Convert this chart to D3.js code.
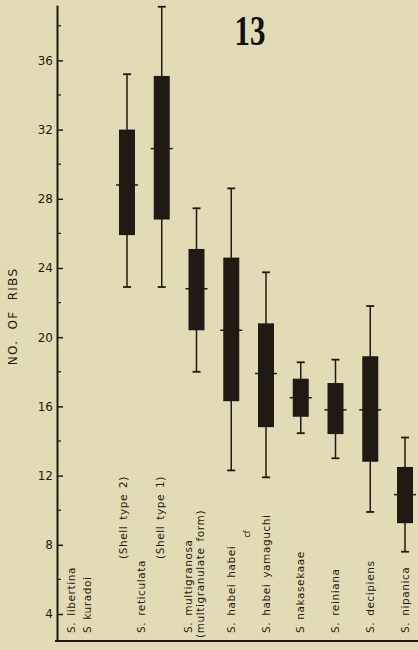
<!DOCTYPE html>
<html>
<head>
<meta charset="utf-8">
<script src="https://cdn.jsdelivr.net/npm/d3@7"></script>
<style>
  body { margin: 0; background: #e1dcb5; }
  svg { display: block; }
</style>
</head>
<body>
<div id="chart"></div>
<script>
// box plot values, one entry per species / form (slot = column position)
const boxSlots = [1, 2, 3, 4, 5, 6, 7, 8, 9];
const whiskerHigh = [35.2, 39.1, 27.45, 28.6, 23.75, 18.55, 18.7, 21.8, 14.2];
const boxHigh = [32.0, 35.1, 25.1, 24.6, 20.8, 17.6, 17.35, 18.9, 12.5];
const medians = [28.8, 30.9, 22.8, 20.4, 17.9, 16.5, 15.8, 15.8, 10.9];
const boxLow = [25.9, 26.8, 20.4, 16.3, 14.8, 15.4, 14.4, 12.8, 9.25];
const whiskerLow = [22.9, 22.9, 18.0, 12.3, 11.9, 14.45, 13.0, 9.9, 7.6];

// category labels along the bottom and the slot they sit at
const labelTexts = ["S. libertina", "S kuradoi", "(Shell type 2)", "S. reticulata", "(Shell type 1)",
    "S. multigranosa", "(multigranulate form)", "S. habei habei", "S. habei yamaguchi",
    "S nakasekaae", "S. reiniana", "S. decipiens", "S. nipanica"];
const labelSlots = [-0.6, -0.15, 0.9, 1.4, 1.95, 2.75, 3.1, 4, 5, 6, 7, 8, 9];

const majorTicks = [4, 8, 12, 16, 20, 24, 28, 32, 36];
const minorTicks = [6, 10, 14, 18, 22, 26, 30, 34, 38];

const width = 418, height = 650;
const ink = "#1f1a14";

// the shell type notes are lettered higher up than the names
const labelStartY = t => t.startsWith("(Shell") ? 559 : t.startsWith("(multi") ? 638 : 633;

const svg = d3.select("#chart").append("svg")
    .attr("width", width)
    .attr("height", height)
    .style("background-color", "#e1dcb5");

const x = d3.scaleLinear().domain([1, 9]).range([127, 405]);
const y = d3.scaleLinear().domain([2.44, 39.2]).range([641, 5]);

// y axis with inward ticks
const axisG = svg.append("g").attr("transform", "translate(57,0)");
axisG.call(d3.axisLeft(y).tickValues(majorTicks).tickSize(-6).tickSizeOuter(0).tickPadding(4))
    .call(g => g.select(".domain").attr("stroke", ink).attr("stroke-width", 2))
    .call(g => g.selectAll(".tick line").attr("stroke", ink).attr("stroke-width", 1.5))
    .call(g => g.selectAll(".tick text")
        .attr("fill", ink)
        .style("font-family", "DejaVu Sans")
        .style("font-size", "12px"));

axisG.selectAll(".minor")
    .data(minorTicks)
    .enter()
    .append("line")
    .attr("x1", 0)
    .attr("x2", 4)
    .attr("y1", d => y(d))
    .attr("y2", d => y(d))
    .attr("stroke", ink)
    .attr("stroke-width", 1.2);

// bottom line
svg.append("line")
    .attr("x1", 55)
    .attr("x2", width)
    .attr("y1", y(2.44))
    .attr("y2", y(2.44))
    .attr("stroke", ink)
    .attr("stroke-width", 1.8);

// y label
svg.append("text")
    .attr("transform", `translate(13,${y(21.2)}) rotate(-90)`)
    .attr("text-anchor", "middle")
    .attr("dy", "0.35em")
    .attr("fill", ink)
    .style("font-family", "DejaVu Sans")
    .style("font-size", "12px")
    .style("letter-spacing", "1.3px")
    .style("word-spacing", "5px")
    .text("NO. OF RIBS");

// boxes
const boxes = boxSlots.map((s, i) => ({
    slot: s,
    hi: whiskerHigh[i],
    q3: boxHigh[i],
    med: medians[i],
    q1: boxLow[i],
    lo: whiskerLow[i],
}));

const box = svg.selectAll("g.box")
    .data(boxes)
    .enter()
    .append("g")
    .attr("class", "box")
    .attr("transform", d => `translate(${x(d.slot)},0)`);

box.append("line")
    .attr("x1", 0).attr("x2", 0)
    .attr("y1", d => y(d.hi))
    .attr("y2", d => y(d.lo))
    .attr("stroke", ink)
    .attr("stroke-width", 1.5);

box.selectAll("line.cap")
    .data(d => [d.hi, d.lo])
    .enter()
    .append("line")
    .attr("class", "cap")
    .attr("x1", -4).attr("x2", 4)
    .attr("y1", v => y(v))
    .attr("y2", v => y(v))
    .attr("stroke", ink)
    .attr("stroke-width", 1.8);

box.append("rect")
    .attr("x", -8)
    .attr("width", 16)
    .attr("y", d => y(d.q3))
    .attr("height", d => y(d.q1) - y(d.q3))
    .attr("fill", ink);

box.append("line")
    .attr("x1", -11).attr("x2", 11)
    .attr("y1", d => y(d.med))
    .attr("y2", d => y(d.med))
    .attr("stroke", ink)
    .attr("stroke-width", 1.5);

// category labels, reading upward
svg.selectAll("text.cat")
    .data(labelTexts.map((t, i) => ({ text: t, slot: labelSlots[i] })))
    .enter()
    .append("text")
    .attr("class", "cat")
    .attr("transform", d => `translate(${x(d.slot)},${labelStartY(d.text)}) rotate(-90)`)
    .attr("dy", "0.35em")
    .attr("fill", ink)
    .style("font-family", "DejaVu Sans")
    .style("font-size", "10.5px")
    .style("letter-spacing", "0.6px")
    .style("word-spacing", "2px")
    .text(d => d.text);

// small "cf" mark between the two habei forms
svg.append("text")
    .attr("transform", `translate(${x(4.45)},534) rotate(-90)`)
    .attr("text-anchor", "middle")
    .attr("dy", "0.35em")
    .attr("fill", ink)
    .style("font-family", "DejaVu Sans")
    .style("font-size", "8px")
    .text("cf");

// figure number
svg.append("text")
    .attr("transform", "translate(250,45) scale(0.72,1)")
    .attr("text-anchor", "middle")
    .attr("fill", "#111")
    .style("font-family", "Liberation Serif")
    .style("font-weight", "bold")
    .style("font-size", "43px")
    .text("13");
</script>
</body>
</html>
